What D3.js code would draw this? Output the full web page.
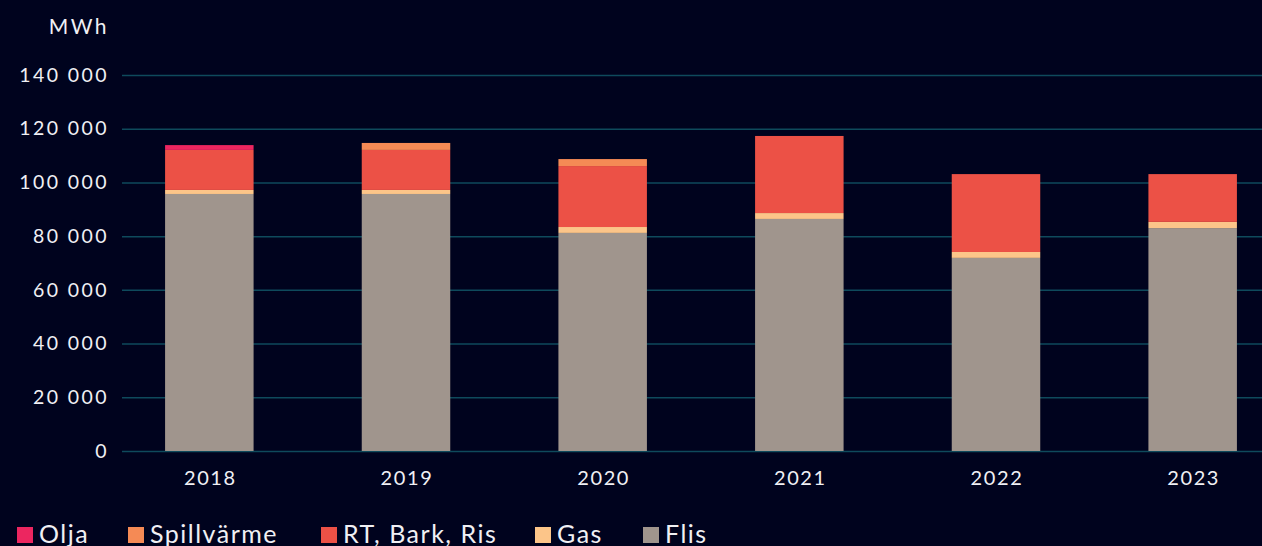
<!DOCTYPE html>
<meta charset="utf-8">
<style>
  body { margin: 0; background: #00031e; }
  svg { display: block; font-family: Lato, "Open Sans", sans-serif; }
</style>
<svg width="1262" height="546"></svg>
<script src="https://d3js.org/d3.v7.min.js"></script>
<script>
// MWh per year
var years = ['2018', '2019', '2020', '2021', '2022', '2023']
var flis = [95700, 95700, 81200, 86400, 71900, 83000]
var gas = [1500, 1500, 2200, 2200, 2200, 2300]
var rtBarkRis = [14900, 14900, 22700, 28700, 29000, 17800]
var spillvarme = [0, 2600, 2600, 0, 0, 0]
var olja = [1800, 0, 0, 0, 0, 0]
var yTicks = [0, 20000, 40000, 60000, 80000, 100000, 120000, 140000]

// bottom to top stacking order, legend order is reversed
var series = [
  { name: 'Flis', values: flis, color: '#a0958d' },
  { name: 'Gas', values: gas, color: '#fcc589' },
  { name: 'RT, Bark, Ris', values: rtBarkRis, color: '#ec5146' },
  { name: 'Spillvärme', values: spillvarme, color: '#f58a55' },
  { name: 'Olja', values: olja, color: '#ec2660' }
]

var rows = years.map(function (y, i) {
  var r = { year: y }
  series.forEach(function (s) { r[s.name] = s.values[i] })
  return r
})

var stacked = d3.stack().keys(series.map(function (s) { return s.name }))(rows)

var svg = d3.select('svg')

var x = d3.scaleBand().domain(years).range([111, 1291]).paddingInner(0.55).paddingOuter(0.275)
var y = d3.scaleLinear().domain([0, 140000]).range([451, 75])

var fmt = function (v) { return d3.format(',')(v).replace(/,/g, ' ') }

// gridlines + y labels
var yAxis = svg.append('g')
  .attr('transform', 'translate(122,0)')
  .call(d3.axisLeft(y).tickValues(yTicks).tickSize(-1140).tickFormat(fmt).tickPadding(13))
yAxis.select('.domain').remove()
yAxis.selectAll('line').attr('stroke', '#0e4a5c').attr('stroke-width', 1.5)
yAxis.selectAll('text')
  .attr('fill', '#f0f0f4')
  .attr('font-size', 19.5)
  .attr('font-family', 'Lato, sans-serif')
  .attr('letter-spacing', 2.4)

svg.append('text')
  .attr('x', 109).attr('y', 34)
  .attr('text-anchor', 'end')
  .attr('fill', '#f0f0f4')
  .attr('font-size', 21)
  .attr('letter-spacing', 2.5)
  .text('MWh')

// bars
var colorOf = {}
series.forEach(function (s) { colorOf[s.name] = s.color })

svg.append('g').selectAll('g')
  .data(stacked)
  .join('g')
    .attr('fill', function (d) { return colorOf[d.key] })
  .selectAll('rect')
  .data(function (d) { return d })
  .join('rect')
    .attr('x', function (d) { return x(d.data.year) })
    .attr('width', x.bandwidth())
    .attr('y', function (d) { return y(d[1]) })
    .attr('height', function (d) { return Math.max(0, y(d[0]) - y(d[1])) })

// x labels
var xAxis = svg.append('g')
  .attr('transform', 'translate(0,451)')
  .call(d3.axisBottom(x).tickSize(0).tickPadding(20))
xAxis.select('.domain').remove()
xAxis.selectAll('text')
  .attr('fill', '#f0f0f4')
  .attr('font-size', 20)
  .attr('font-family', 'Lato, sans-serif')
  .attr('letter-spacing', 1.6)
  .attr('dx', 1)

// legend
var legendX = [17, 128, 321, 535, 643]
var legend = svg.append('g').selectAll('g')
  .data(series.slice().reverse())
  .join('g')
    .attr('transform', function (d, i) { return 'translate(' + legendX[i] + ',527)' })
legend.append('rect')
  .attr('width', 16).attr('height', 16)
  .attr('fill', function (d) { return d.color })
legend.append('text')
  .attr('x', 22).attr('y', 16)
  .attr('fill', '#f0f0f4')
  .attr('font-size', 25)
  .attr('letter-spacing', 1.5)
  .text(function (d) { return d.name })
</script>
